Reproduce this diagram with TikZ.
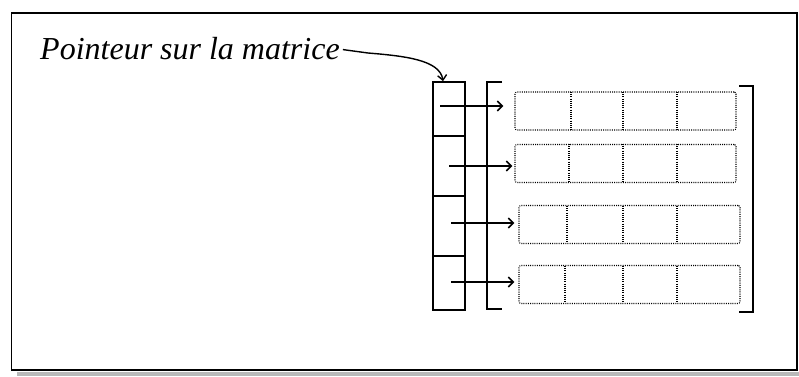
\documentclass[tikz,border=0pt]{standalone}
\usepackage{fontspec}
\setmainfont{Liberation Serif}
\usetikzlibrary{arrows.meta}
\begin{document}
\begin{tikzpicture}[x=1pt,y=-1pt,
  solidline/.style={line width=1.7pt},
  cellbox/.style={draw,solidline,minimum width=32pt,inner sep=0pt},
  rowbox/.style={draw,dash pattern=on 1pt off 1.2pt,line width=1.1pt,rounded corners=2pt,minimum height=38pt,inner sep=0pt},
  divline/.style={dash pattern=on 1pt off 1.2pt,line width=1.1pt},
  ptrarrow/.style={solidline,-{Straight Barb[length=5pt,width=10pt,line width=1.6pt]}}]
\useasboundingbox (0,0) rectangle (799,376);
% frame and shadow
\fill[gray!55] (17,372) rectangle (799,376);
\draw[line width=1.6pt] (11.5,13) rectangle (797,370);
% label
\node[font=\fontsize{32}{38}\selectfont\itshape, anchor=base west, inner sep=0pt] (lab) at (40,59) {Pointeur sur la matrice};
% pointer column
\node[cellbox,minimum height=54pt] (c1) at (449,109) {};
\node[cellbox,minimum height=60pt] (c2) at (449,166) {};
\node[cellbox,minimum height=60pt] (c3) at (449,226) {};
\node[cellbox,minimum height=54pt] (c4) at (449,283) {};
% brackets
\draw[solidline] (502,82) -- (487,82) -- (487,309) -- (502,309);
\draw[solidline] (739,86) -- (753,86) -- (753,312) -- (739,312);
% rows
\node[rowbox,minimum width=221pt] (r1) at (625.5,111) {};
\node[rowbox,minimum width=221pt] (r2) at (625.5,163.5) {};
\node[rowbox,minimum width=221pt] (r3) at (629.5,224.5) {};
\node[rowbox,minimum width=221pt] (r4) at (629.5,284.5) {};
\draw[divline] (571,92) -- (571,130) (623,92) -- (623,130) (677,92) -- (677,130);
\draw[divline] (569,144) -- (569,183) (623,144) -- (623,183) (677,144) -- (677,183);
\draw[divline] (567,206) -- (567,243) (623,206) -- (623,243) (677,206) -- (677,243);
\draw[divline] (565,266) -- (565,303) (623,266) -- (623,303) (677,266) -- (677,303);
% arrow starts
\coordinate (s1) at (440,106);
\coordinate (s2) at (449,166);
\coordinate (s3) at (451,223);
\coordinate (s4) at (451,282);
\draw[ptrarrow] (s1) -- ([xshift=-11pt]r1.west |- s1);
\draw[ptrarrow] (s2) -- ([xshift=-2pt]r2.west |- s2);
\draw[ptrarrow] (s3) -- ([xshift=-4pt]r3.west |- s3);
\draw[ptrarrow] (s4) -- ([xshift=-4pt]r4.west |- s4);
% curved pointer
\draw[line width=1.4pt,-{Straight Barb[length=5pt,width=9pt,line width=1.4pt]}]
  ([xshift=3pt,yshift=-1.5pt]lab.east) -- (368,53) .. controls (405,56) and (440,60) .. (c1.north -| 443,0);
\end{tikzpicture}
\end{document}
